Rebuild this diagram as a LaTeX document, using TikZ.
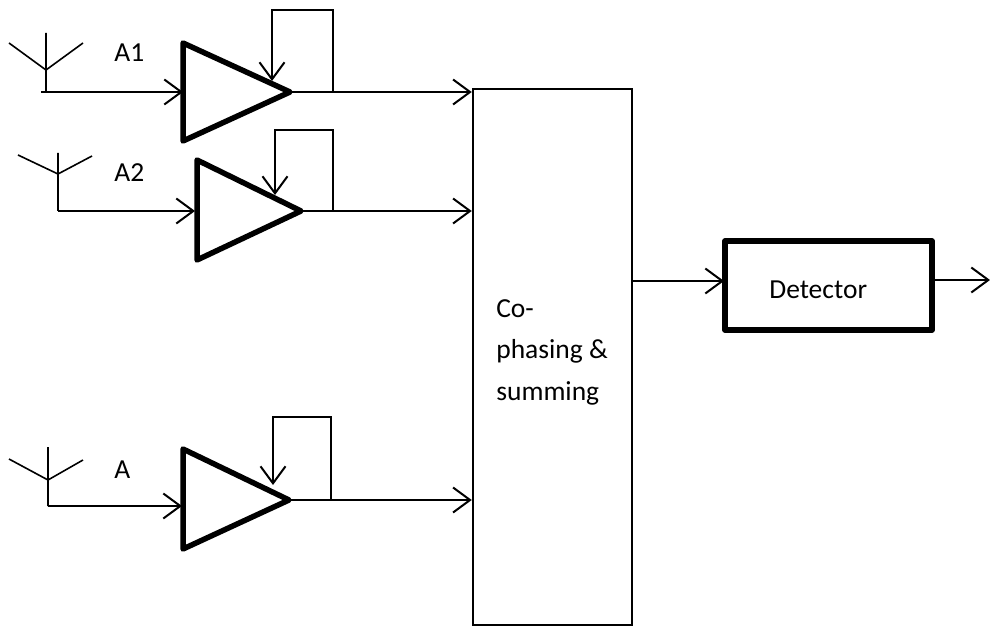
\documentclass[tikz,border=0pt]{standalone}
\usepackage{fontspec}
\setmainfont{Carlito}
\usetikzlibrary{arrows.meta}
\begin{document}
\begin{tikzpicture}[x=1pt, y=-1pt, line width=2pt,
    >={Straight Barb[length=17pt,width=25pt,line width=2pt]},
    every node/.style={font=\fontsize{27.5}{32}\selectfont},
    thinline/.style={line width=1.6pt},
    heavy/.style={line width=5.5pt, line join=round}]
  \useasboundingbox (0,0) rectangle (990,628);

  % combiner and detector
  \node[draw, line width=2.5pt, minimum width=159pt, minimum height=536pt, inner sep=0pt] (sum) at (552.5,357) {};
  \node[draw, heavy, minimum width=207pt, minimum height=89pt, inner sep=0pt] (det) at (828.5,285.5) {};
  \node[anchor=west] (detlabel) at (765,290) {Detector};
  \node[anchor=west, align=left, font=\fontsize{27.5}{41.5}\selectfont] (sumlabel) at (492,352) {Co-\\phasing \&\\summing};

  % antenna labels
  \node[anchor=west] (labA1) at (110,53) {A1};
  \node[anchor=west] (labA2) at (110,173) {A2};
  \node[anchor=west] (labA) at (110,470) {A};

  % first branch
  \coordinate (ant1) at (46,70);
  \coordinate (in1) at (183,92);
  \coordinate (out1) at (290,92);
  \coordinate (tap1) at (333,92);
  \draw[thinline] (46,33) -- (46,92) (9,43) -- (ant1) -- (83,43);
  \draw[->] (41,92) -- (in1);
  \draw[heavy] (183,43) -- (183,141) -- (out1) -- cycle;
  \draw[->, thinline] (tap1) -- (333,10) -- (272,10) -- (272,81);
  \draw[->] (out1) -- (sum.west |- out1);

  % second branch
  \coordinate (ant2) at (58,174);
  \coordinate (in2) at (195,211);
  \coordinate (out2) at (301,211);
  \coordinate (tap2) at (333,211);
  \draw[thinline] (58,153) -- (58,211) (18,155) -- (ant2) -- (92,156);
  \draw[->] (58,211) -- (in2);
  \draw[heavy] (197,160) -- (197,260) -- (out2) -- cycle;
  \draw[->, thinline] (tap2) -- (333,130) -- (275,130) -- (275,195);
  \draw[->] (out2) -- (sum.west |- out2);

  % third branch
  \coordinate (ant3) at (48,480);
  \coordinate (in3) at (182,506);
  \coordinate (out3) at (289,500);
  \coordinate (tap3) at (331,500);
  \draw[thinline] (48,447) -- (48,506) (9,459) -- (ant3) -- (83,460);
  \draw[->] (48,506) -- (in3);
  \draw[heavy] (183,449) -- (183,549) -- (out3) -- cycle;
  \draw[->, thinline] (tap3) -- (331,417) -- (273,417) -- (273,485);
  \draw[->] (out3) -- (sum.west |- out3);

  % detector in and out
  \coordinate (detin) at (724,281);
  \coordinate (detout) at (990,280);
  \draw[->] (sum.east |- detin) -- (detin);
  \draw[->] (det.east |- detout) -- (detout);
\end{tikzpicture}
\end{document}
